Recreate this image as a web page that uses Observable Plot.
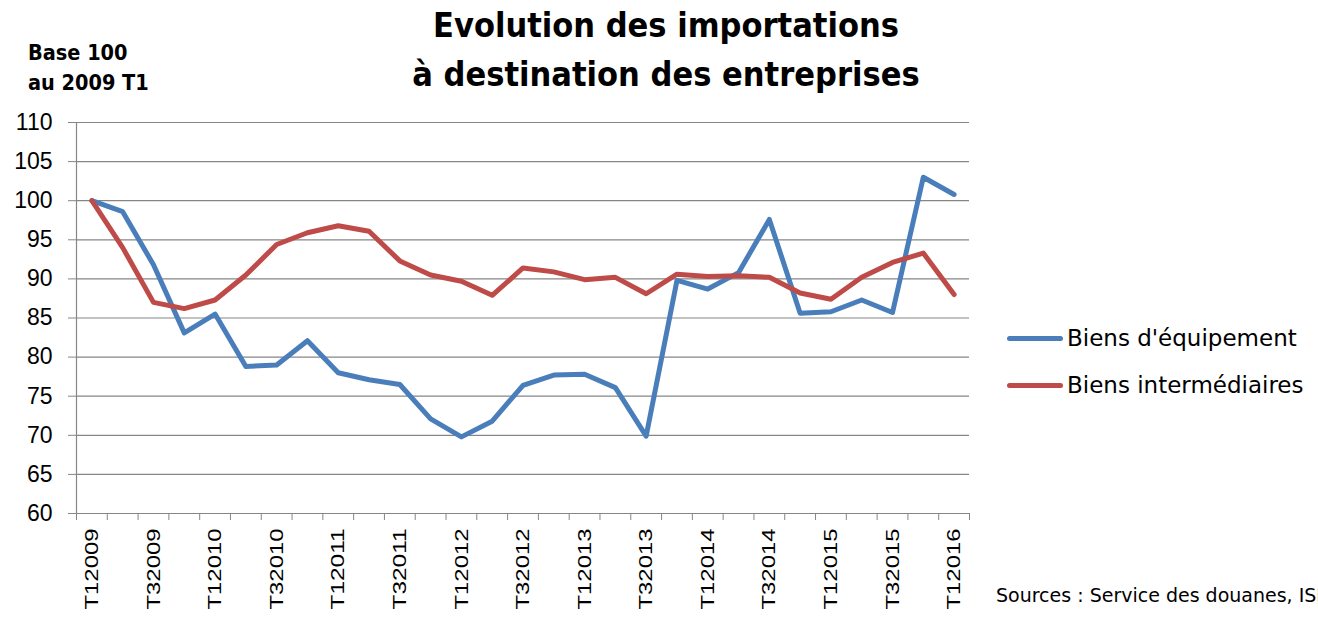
<!DOCTYPE html>
<html>
<head>
<meta charset="utf-8">
<script src="https://cdn.jsdelivr.net/npm/d3@7"></script>
<script src="https://cdn.jsdelivr.net/npm/@observablehq/plot@0.6"></script>
<style>
  html, body { margin: 0; padding: 0; background: #fff; overflow: hidden; }
  #wrap { position: relative; width: 1318px; height: 617px; overflow: hidden; }
  #chart { position: absolute; left: 0; top: 0; }
  .title { position: absolute; left: 0; width: 1332px; text-align: center; font-family: "DejaVu Sans Condensed", "DejaVu Sans", sans-serif; font-weight: bold; font-size: 34px; line-height: 40px; color: #000; white-space: nowrap; }
  .base { position: absolute; left: 28px; font-family: "DejaVu Sans Condensed", "DejaVu Sans", sans-serif; font-weight: bold; font-size: 21.5px; line-height: 24px; color: #000; white-space: nowrap; }
  .leg { position: absolute; left: 1007px; font-family: "DejaVu Sans", sans-serif; font-size: 23px; color: #000; white-space: nowrap; display: flex; align-items: center; }
  .leg .sw { width: 56px; height: 5px; border-radius: 3px; margin-right: 4px; }
  .src { position: absolute; left: 996px; top: 584px; font-family: "DejaVu Sans", sans-serif; font-size: 19px; line-height: 22px; color: #000; white-space: nowrap; }
</style>
</head>
<body>
<div id="wrap">
  <div id="chart"></div>
  <div class="title" style="top:5px">Evolution des importations</div>
  <div class="title" style="top:54px">à destination des entreprises</div>
  <div class="base" style="top:41px">Base 100</div>
  <div class="base" style="top:71px">au 2009 T1</div>
  <div id="legend"></div>
  <div class="src">Sources : Service des douanes, ISP</div>
</div>
<script>
// ---- data ----
const quarters = [
  "T12009","T22009","T32009","T42009",
  "T12010","T22010","T32010","T42010",
  "T12011","T22011","T32011","T42011",
  "T12012","T22012","T32012","T42012",
  "T12013","T22013","T32013","T42013",
  "T12014","T22014","T32014","T42014",
  "T12015","T22015","T32015","T42015",
  "T12016"
];
const seriesNames = ["Biens d'équipement", "Biens intermédiaires"];
const seriesColors = ["#4A7EBB", "#BE4B48"];
const equipement = [100, 98.6, 91.8, 83.1, 85.5, 78.8, 79.0, 82.1, 78.0, 77.1, 76.5, 72.1, 69.8, 71.8,
                    76.4, 77.7, 77.8, 76.1, 69.9, 89.8, 88.7, 90.8, 97.6, 85.6, 85.8, 87.3, 85.7, 103.0, 100.8];
const intermediaires = [100, 94.0, 87.0, 86.2, 87.3, 90.5, 94.4, 95.9, 96.8, 96.1, 92.3, 90.5, 89.7, 87.9,
                        91.4, 90.9, 89.9, 90.2, 88.1, 90.6, 90.3, 90.4, 90.2, 88.2, 87.4, 90.2, 92.1, 93.3, 88.0];
const yTicks = [60, 65, 70, 75, 80, 85, 90, 95, 100, 105, 110];
const xTickLabels = ["T12009","T32009","T12010","T32010","T12011","T32011","T12012","T32012",
                     "T12013","T32013","T12014","T32014","T12015","T32015","T12016"];

// ---- build table ----
const rows = [];
[equipement, intermediaires].forEach((vals, s) => {
  vals.forEach((v, i) => rows.push({i, q: quarters[i], serie: seriesNames[s], v}));
});
const boundaries = d3.range(quarters.length + 1).map(k => k - 0.5);
const labelIdx = xTickLabels.map(l => quarters.indexOf(l));
const grey = "#868686";

const plot = Plot.plot({
  width: 1318,
  height: 617,
  marginLeft: 76,
  marginRight: 349,
  marginTop: 122,
  marginBottom: 104,
  x: {domain: [-0.5, quarters.length - 0.5], axis: null, label: null},
  y: {domain: [60, 110], axis: null, label: null},
  color: {domain: seriesNames, range: seriesColors},
  style: {fontFamily: "'Liberation Sans', Arial, sans-serif", background: "white"},
  marks: [
    Plot.gridY(yTicks, {stroke: grey, strokeOpacity: 1, strokeWidth: 1.2}),
    Plot.axisY(yTicks, {anchor: "left", label: null, tickSize: 8, tickPadding: 16, stroke: grey, strokeOpacity: 1,
      fontSize: 23, fill: "#000", tickFormat: d => String(d)}),
    Plot.ruleX([-0.5], {stroke: grey, strokeWidth: 1.2}),
    Plot.axisX(boundaries, {anchor: "bottom", label: null, tickSize: 7, stroke: grey, strokeOpacity: 1, tickFormat: () => ""}),
    Plot.axisX(labelIdx, {anchor: "bottom", label: null, tickSize: 0, tickPadding: 15, tickRotate: -90,
      fontSize: 19, fill: "#000", tickFormat: i => quarters[i]}),
    Plot.lineY(rows, {x: "i", y: "v", z: "serie", stroke: "serie", strokeWidth: 5,
      strokeLinejoin: "round", strokeLinecap: "round"})
  ]
});
document.getElementById("chart").appendChild(plot);

// stretch rotated x labels like the original rendering
d3.select(plot).selectAll("g[aria-label='x-axis tick label'] text")
  .attr("textLength", 81).attr("lengthAdjust", "spacingAndGlyphs");

// legend
const leg = document.getElementById("legend");
seriesNames.forEach((n, k) => {
  const d = document.createElement("div");
  d.className = "leg";
  d.style.top = (325 + k * 47) + "px";
  d.innerHTML = `<span class="sw" style="background:${seriesColors[k]}"></span><span>${n}</span>`;
  leg.appendChild(d);
});
</script>
</body>
</html>
